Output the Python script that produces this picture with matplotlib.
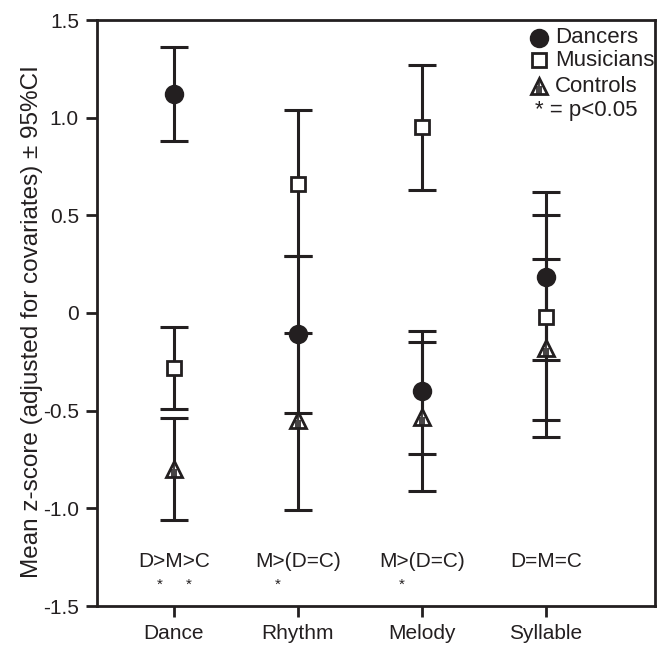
import matplotlib
matplotlib.use("Agg")
import matplotlib.pyplot as plt
import numpy as np
from matplotlib.path import Path

plt.rcParams['font.family'] = ['Liberation Sans', 'DejaVu Sans']

categories = ["Dance", "Rhythm", "Melody", "Syllable"]
groups = ["Dancers", "Musicians", "Controls"]

dancers_mean = [1.12, -0.11, -0.40, 0.185]
dancers_lo = [0.88, -0.51, -0.72, -0.24]
dancers_hi = [1.36, 0.29, -0.09, 0.62]

musicians_mean = [-0.28, 0.66, 0.95, -0.022]
musicians_lo = [-0.49, 0.29, 0.63, -0.55]
musicians_hi = [-0.07, 1.04, 1.27, 0.50]

controls_mean = [-0.80, -0.55, -0.53, -0.18]
controls_lo = [-1.06, -1.01, -0.91, -0.634]
controls_hi = [-0.54, -0.10, -0.15, 0.274]

comparisons = ["D>M>C", "M>(D=C)", "M>(D=C)", "D=M=C"]
star_offsets = [[-0.113, 0.121], [-0.164], [-0.164], []]

yticks = [-1.5, -1.0, -0.5, 0, 0.5, 1.0, 1.5]
yticklabels = ["-1.5", "-1.0", "-0.5", "0", "0.5", "1.0", "1.5"]

INK = '#231f20'

fig = plt.figure(figsize=(6.66, 6.5), dpi=100)
ax = fig.add_axes([97/666, 44/650, (655-97)/666, (606-20)/650])

x = np.arange(1, len(categories) + 1)

hatch = Path([(-0.13, -0.45), (-0.13, 0.02), (0.0, -0.45), (0.0, 0.25),
              (0.13, -0.45), (0.13, 0.02)],
             [Path.MOVETO, Path.LINETO, Path.MOVETO, Path.LINETO,
              Path.MOVETO, Path.LINETO])

def draw(means, lo, hi, marker, mfc, ms):
    means = np.array(means); lo = np.array(lo); hi = np.array(hi)
    yerr = np.vstack([means - lo, hi - means])
    ax.errorbar(x, means, yerr=yerr, fmt='none', ecolor=INK,
                elinewidth=2.2, capsize=10, capthick=2.2, zorder=2)
    ax.plot(x, means, linestyle='none', marker=marker, markersize=ms,
            markerfacecolor=mfc, markeredgecolor=INK, markeredgewidth=2.0,
            zorder=5)

draw(dancers_mean, dancers_lo, dancers_hi, 'o', INK, 12)
draw(musicians_mean, musicians_lo, musicians_hi, 's', 'white', 10)
draw(controls_mean, controls_lo, controls_hi, '^', 'white', 11)
ax.plot(x, controls_mean, linestyle='none', marker=hatch, markersize=11,
        markerfacecolor='none', markeredgecolor=INK, markeredgewidth=1.2,
        zorder=6)

for xi, label, offs in zip(x, comparisons, star_offsets):
    ax.text(xi, -1.27, label, ha='center', va='center', fontsize=15, color=INK)
    for o in offs:
        ax.text(xi + o, -1.39, '*', ha='center', va='center', fontsize=11, color=INK)

ax.set_xlim(0.379, 4.88)
ax.set_ylim(-1.5, 1.5)
ax.set_xticks(x)
ax.set_xticklabels(categories, fontsize=15)
ax.set_yticks(yticks)
ax.set_yticklabels(yticklabels, fontsize=15)
ax.tick_params(direction='out', length=8, width=2.0, color=INK, labelcolor=INK, pad=5)
for s in ax.spines.values():
    s.set_linewidth(2.0)
    s.set_color(INK)
ax.set_ylabel("Mean z-score (adjusted for covariates) \u00b1 95%CI", fontsize=17.5, color=INK)
ax.yaxis.set_label_coords(-0.097, 0.485)

# legend (manual, in axes coordinates)
leg_marker_x = 0.792
leg_text_x = 0.821
leg_y = [0.970, 0.931, 0.887]
leg_markers = [('o', INK, 12), ('s', 'white', 10), ('^', 'white', 11)]
for (mk, fc, ms), yy, name in zip(leg_markers, leg_y, groups):
    ax.plot([leg_marker_x], [yy], transform=ax.transAxes, linestyle='none',
            marker=mk, markersize=ms, markerfacecolor=fc, markeredgecolor=INK,
            markeredgewidth=2.0, clip_on=False, zorder=7)
    ax.text(leg_text_x, yy, name, transform=ax.transAxes, ha='left', va='center',
            fontsize=16, color=INK)
ax.plot([leg_marker_x], [leg_y[2]], transform=ax.transAxes, linestyle='none',
        marker=hatch, markersize=11, markerfacecolor='none', markeredgecolor=INK,
        markeredgewidth=1.2, clip_on=False, zorder=8)
ax.text(0.785, 0.846, "* = p<0.05", transform=ax.transAxes, ha='left', va='center',
        fontsize=16, color=INK)

fig.savefig("out.png", dpi=100, facecolor='white')
